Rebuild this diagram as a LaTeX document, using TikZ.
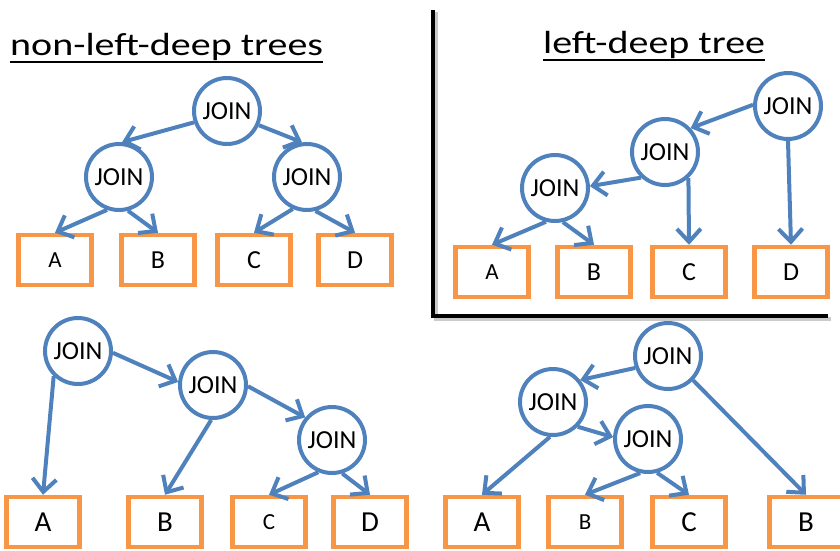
\documentclass[tikz,border=0pt]{standalone}
\usepackage{fontspec}
\setmainfont{Carlito}
\usetikzlibrary{arrows.meta,calc}
\definecolor{bleu}{HTML}{4F81BD}
\definecolor{orangebox}{HTML}{F79646}
\tikzset{
    joinnode/.style={circle,draw=bleu,line width=4pt,minimum size=66pt,inner sep=0pt,font=\fontsize{26}{26}\selectfont},
    relbox/.style={rectangle,draw=orangebox,line width=4.5pt,minimum width=73pt,minimum height=50pt,inner sep=0pt},
    fleche/.style={draw=bleu,line width=4pt,-{Straight Barb[length=13pt,width=24pt]}},
    titre/.style={anchor=base west,inner sep=0pt,font=\fontsize{32}{32}\selectfont},
    petit/.style={font=\fontsize{23}{23}\selectfont},
    moyen/.style={font=\fontsize{26}{26}\selectfont},
    grand/.style={font=\fontsize{29}{29}\selectfont},
  }
\begin{document}
\begin{tikzpicture}[x=1pt,y=-1pt]
				  \useasboundingbox (0,0) rectangle (840,550);
				  \clip (0,0) rectangle (840,550);

				  %non-left-deep (haut)
				  \node[titre] (T_1) at (10,55) {\scalebox{1.25}[1]{non-left-deep trees}};
				  \draw[line width=2pt] ([yshift=-7pt]T_1.base west) -- ([yshift=-7pt]T_1.base east);
				  \node[joinnode] (J_1) at (227,111) {JOIN};
				  \node[joinnode] (J_2) at (119,177) {JOIN};
				  \node[joinnode] (J_3) at (307,177) {JOIN};
				  \node[relbox,petit] (A_1) at (55,260) {A};
				  \node[relbox,moyen] (B_1) at (158,260) {B};
				  \node[relbox,moyen] (C_1) at (254,260) {C};
				  \node[relbox,moyen] (D_1) at (355,260) {D};
				  \draw[fleche] (J_1.199) -- (J_2.85);
				  \draw[fleche] (J_1.336) -- (J_3.98);
				  \draw[fleche] (J_2.250) -- (A_1.north);
				  \draw[fleche] (J_2.285) -- (B_1.north);
				  \draw[fleche] (J_3.246) -- (C_1.north);
				  \draw[fleche] (J_3.284) -- (D_1.north);

				  %cadre
				  \draw[line width=4pt,black!35,opacity=0.6] (436,12) -- (436,319) -- (831,319);
				  \draw[line width=4pt] (433,10) -- (433,316) -- (828,316);

				  %left-deep
				  \node[titre] (T_2) at (543,53) {\scalebox{1.25}[1]{left-deep tree}};
				  \draw[line width=2pt] ([yshift=-7pt]T_2.base west) -- ([yshift=-7pt]T_2.base east);
				  \node[joinnode] (J_4) at (788,106) {JOIN};
				  \node[joinnode] (J_5) at (665,152) {JOIN};
				  \node[joinnode] (J_6) at (555,188) {JOIN};
				  \node[relbox,petit] (A_2) at (492,272) {A};
				  \node[relbox,moyen] (B_2) at (594,272) {B};
				  \node[relbox,moyen] (C_2) at (689,272) {C};
				  \node[relbox,moyen] (D_2) at (791,272) {D};
				  \draw[fleche] (J_4.178) -- (J_5.43);
				  \draw[fleche] (J_4.south) -- (D_2.north);
				  \draw[fleche] (J_5.227) -- (J_6.3);
				  \draw[fleche] (J_5.312) -- (C_2.north);
				  \draw[fleche] (J_6.255) -- (A_2.north);
				  \draw[fleche] (J_6.283) -- (B_2.north);

				  %non-left-deep (bas gauche)
				  \node[joinnode] (J_7) at (78,351) {JOIN};
				  \node[joinnode] (J_8) at (213,385) {JOIN};
				  \node[joinnode] (J_9) at (332,440) {JOIN};
				  \node[relbox,grand] (A_3) at (43,522) {A};
				  \node[relbox,grand] (B_3) at (165,522) {B};
				  \node[relbox,petit] (C_3) at (269,522) {C};
				  \node[relbox,grand] (D_3) at (370,522) {D};
				  \draw[fleche] (J_7.226) -- (A_3.north);
				  \draw[fleche] (J_7.357) -- (J_8.175);
				  \draw[fleche] (J_8.267) -- (B_3.north);
				  \draw[fleche] (J_8.358) -- (J_9.140);
				  \draw[fleche] (J_9.247) -- (C_3.north);
				  \draw[fleche] (J_9.287) -- (D_3.north);

				  %non-left-deep (bas droite)
				  \node[joinnode] (J_10) at (668,356) {JOIN};
				  \node[joinnode] (J_11) at (553,402) {JOIN};
				  \node[joinnode] (J_12) at (648,439) {JOIN};
				  \node[relbox,grand] (A_4) at (482,522) {A};
				  \node[relbox,petit] (B_4) at (585,522) {B};
				  \node[relbox,grand] (C_4) at (689,522) {C};
				  \node[relbox,grand] (E_4) at (806,522) {B};
				  \draw[fleche] (J_10.200) -- (J_11.39);
				  \draw[fleche] (J_10.316) -- (E_4.north);
				  \draw[fleche] (J_11.265) -- (A_4.north);
				  \draw[fleche] (J_11.315) -- (J_12.177);
				  \draw[fleche] (J_12.257) -- (B_4.north);
				  \draw[fleche] (J_12.285) -- (C_4.north);
\end{tikzpicture}
\end{document}
